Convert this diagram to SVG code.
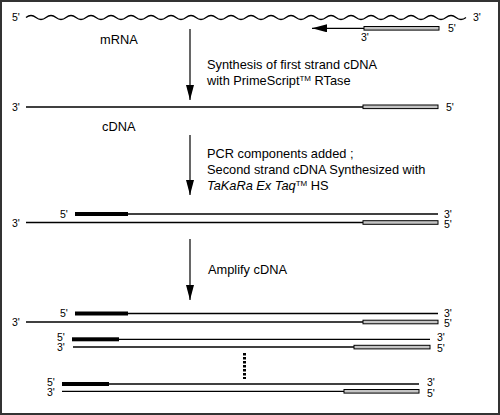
<svg xmlns="http://www.w3.org/2000/svg" width="500" height="415" viewBox="0 0 500 415">
<style>
text{font-family:"Liberation Sans",Arial,sans-serif;fill:#000}
.t{font-size:12.8px}
.l{font-size:10.5px}
.sup{font-size:8px}
.s{stroke:#000;stroke-width:1.3;fill:none}
.g{fill:#c4c4c4;stroke:#000;stroke-width:1}
.b{fill:#000}
.c{stroke:#000;stroke-width:1.2;fill:none}
</style>
<defs>
<marker id="ah" viewBox="0 0 15 8" refX="15" refY="4" markerWidth="15" markerHeight="8" markerUnits="userSpaceOnUse" orient="auto">
<path d="M0,0 L15,4 L0,8 z" fill="#000"/>
</marker>
</defs>
<rect x="1" y="1" width="498" height="413" fill="#fff" stroke="#333" stroke-width="2"/>

<g id="mrna">
<text class="l" x="12" y="21">5'</text>
<path class="s" d="M26,17.5 q5,-4 10,0 t10,0 t10,0 t10,0 t10,0 t10,0 t10,0 t10,0 t10,0 t10,0 t10,0 t10,0 t10,0 t10,0 t10,0 t10,0 t10,0 t10,0 t10,0 t10,0 t10,0 t10,0 t10,0 t10,0 t10,0 t10,0 t10,0 t10,0 t10,0 t10,0 t10,0 t10,0 t10,0 t10,0 t10,0 t10,0 t10,0 t10,0 t10,0 t10,0 t10,0 t10,0 t10,0 t10,0"/>
<text class="l" x="473" y="21">3'</text>
<text class="t" x="100" y="44">mRNA</text>
</g>

<g id="primer">
<rect class="g" x="364" y="26.5" width="75" height="3.6"/>
<text class="l" x="361" y="41">3'</text>
<text class="l" x="448" y="32">5'</text>
</g>

<g id="cdna">
<text class="l" x="12" y="111">3'</text>
<line class="s" x1="26" y1="107" x2="363" y2="107"/>
<rect class="g" x="363" y="105" width="75" height="3.6"/>
<text class="l" x="446" y="111">5'</text>
<text class="t" x="102" y="131">cDNA</text>
</g>

<g id="ds-cdna">
<text class="l" x="60" y="218">5'</text>
<rect class="b" x="75" y="212" width="53" height="4"/>
<line class="s" x1="128" y1="214" x2="438" y2="214"/>
<text class="l" x="444" y="217.5">3'</text>
<text class="l" x="12" y="227">3'</text>
<line class="s" x1="26" y1="222.5" x2="363" y2="222.5"/>
<rect class="g" x="363" y="220.7" width="75" height="3.6"/>
<text class="l" x="444" y="227.5">5'</text>
</g>

<g id="amplified-1">
<text class="l" x="60" y="317">5'</text>
<rect class="b" x="75" y="311.5" width="53" height="4"/>
<line class="s" x1="128" y1="313.5" x2="438" y2="313.5"/>
<text class="l" x="444" y="316.5">3'</text>
<text class="l" x="12" y="326">3'</text>
<line class="s" x1="26" y1="322" x2="363" y2="322"/>
<rect class="g" x="363" y="320.2" width="75" height="3.6"/>
<text class="l" x="444" y="326.5">5'</text>
</g>

<g id="amplified-2">
<text class="l" x="57" y="340.5">5'</text>
<rect class="b" x="72" y="337.3" width="47" height="4"/>
<line class="s" x1="119" y1="339.3" x2="430" y2="339.3"/>
<text class="l" x="437" y="341">3'</text>
<text class="l" x="57" y="351">3'</text>
<line class="s" x1="73" y1="347" x2="354" y2="347"/>
<rect class="g" x="354" y="345.3" width="76" height="3.6"/>
<text class="l" x="437" y="352">5'</text>
</g>

<g id="ellipsis">
<line x1="244.5" y1="353" x2="244.5" y2="379" stroke="#000" stroke-width="3" stroke-dasharray="2.5,1.5"/>
</g>

<g id="amplified-3">
<text class="l" x="47" y="385.5">5'</text>
<rect class="b" x="62" y="382" width="47" height="4"/>
<line class="s" x1="109" y1="384" x2="419" y2="384"/>
<text class="l" x="427" y="386">3'</text>
<text class="l" x="47" y="395.5">3'</text>
<line class="s" x1="62" y1="391.3" x2="344" y2="391.3"/>
<rect class="g" x="344" y="389.5" width="75" height="3.6"/>
<text class="l" x="427" y="397">5'</text>
</g>

<g id="labels">
<text class="t" x="207" y="69">Synthesis of first strand cDNA</text>
<text class="t" x="207" y="85">with PrimeScript<tspan class="sup" dy="-4.5">TM</tspan><tspan dy="4.5"> RTase</tspan></text>
<text class="t" x="207" y="158">PCR components added ;</text>
<text class="t" x="207" y="174">Second strand cDNA Synthesized with</text>
<text class="t" x="207" y="190"><tspan font-style="italic">TaKaRa Ex Taq</tspan><tspan class="sup" dy="-4.5">TM</tspan><tspan dy="4.5"> HS</tspan></text>
<text class="t" x="208" y="274">Amplify cDNA</text>
</g>

<g id="connectors">
<line class="c" x1="364" y1="28.3" x2="312" y2="28.3" marker-end="url(#ah)"/>
<line class="c" x1="190" y1="29" x2="190" y2="100" marker-end="url(#ah)"/>
<line class="c" x1="190" y1="135" x2="190" y2="195" marker-end="url(#ah)"/>
<line class="c" x1="190" y1="239" x2="190" y2="300" marker-end="url(#ah)"/>
</g>
</svg>
